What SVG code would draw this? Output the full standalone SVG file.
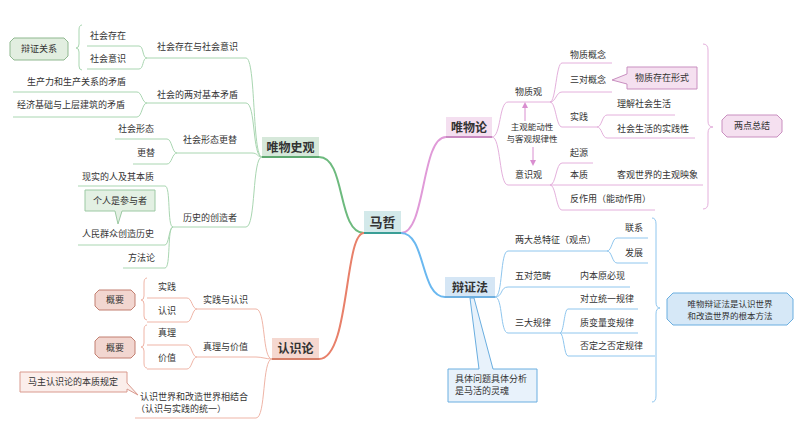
<svg xmlns="http://www.w3.org/2000/svg" width="800" height="430" viewBox="0 0 800 430">
<style>
text{font-family:"Noto Sans CJK SC","Noto Sans",sans-serif;fill:#333;font-size:9px}
.b{font-size:12px;font-weight:bold;text-anchor:middle}
.m{text-anchor:middle}
.s{font-size:8.5px}
.g{fill:none;stroke:#a9d6b1;stroke-width:1}
.p{fill:none;stroke:#e4b0dc;stroke-width:1}
.u{fill:none;stroke:#8fc6ee;stroke-width:1}
.o{fill:none;stroke:#efb5a7;stroke-width:1}
</style>
<rect width="800" height="430" fill="#fff"/>
<g id="connectors">
<path d="M319,157 C346,157 337,233 364,233" fill="none" stroke="#6dba7e" stroke-width="2"/>
<path d="M401,233 C426,233 421,137 446,137" fill="none" stroke="#e09ad8" stroke-width="2"/>
<path d="M401,233 C426,233 420,297 445,297" fill="none" stroke="#6ab8f0" stroke-width="2"/>
<path d="M364,233 C344,233 350,359 319,359" fill="none" stroke="#e8806a" stroke-width="2"/>
<!-- green -->
<path class="g" d="M262,157 C252,157 256,58 246,58 L147,58"/>
<path class="g" d="M147,58 C142,58 144,46 139,46 L87,46"/>
<path class="g" d="M147,58 C142,58 144,69 139,69 L87,69"/>
<path class="g" d="M262,157 C252,157 256,103 246,103 L147,103"/>
<path class="g" d="M147,103 C142,103 142,92 137,92 L13,92"/>
<path class="g" d="M147,103 C142,103 142,117 137,117 L13,117"/>
<path class="g" d="M262,157 C257,157 258,153 252,153 L177,153"/>
<path class="g" d="M177,153 C172,153 172,139 167,139 L115,139"/>
<path class="g" d="M177,153 C172,153 172,164 167,164 L133,164"/>
<path class="g" d="M262,157 C252,157 256,227 246,227 L173,227"/>
<path class="g" d="M173,227 C167,227 171,186 165,186 L78,186"/>
<path class="g" d="M173,227 C169,227 169,245 165,245 L78,245"/>
<path class="g" d="M173,227 C167,227 171,268 165,268 L123,268"/>
<path class="g" d="M82,25 Q79,25 79,30 L79,44 Q79,48 76,48 Q79,48 79,52 L79,66 Q79,70 82,70"/>
<!-- orange -->
<path class="o" d="M272,359 C262,359 266,309 256,309 L197,309"/>
<path class="o" d="M197,309 C192,309 192,298 187,298 L147,298"/>
<path class="o" d="M197,309 C192,309 192,322 187,322 L147,322"/>
<path class="o" d="M272,359 C266,359 262,357 256,357 L197,357"/>
<path class="o" d="M197,357 C192,357 192,345 187,345 L147,345"/>
<path class="o" d="M197,357 C192,357 192,369 187,369 L147,369"/>
<path class="o" d="M272,359 C262,359 266,418 256,418 L135,418"/>
<path class="o" d="M147,278 Q144,278 144,283 L144,296 Q144,300 141,300 Q144,300 144,304 L144,316 Q144,320 147,320"/>
<path class="o" d="M147,325 Q144,325 144,330 L144,343 Q144,347 141,347 Q144,347 144,351 L144,363 Q144,368 147,368"/>
<!-- pink -->
<path class="p" d="M492,137 C501,137 499,102 508,102 L550,102"/>
<path class="p" d="M492,137 C501,137 499,185 508,185 L550,185"/>
<path class="p" d="M550,102 C556,102 556,63 562,63 L612,63"/>
<path class="p" d="M550,102 C556,102 556,92 562,92 L612,92"/>
<path class="p" d="M550,102 C556,102 556,127 562,127 L597,127"/>
<path class="p" d="M597,127 C602,127 602,115 607,115 L675,115"/>
<path class="p" d="M597,127 C602,127 602,138 607,138 L695,138"/>
<path class="p" d="M550,185 C556,185 556,163 562,163 L593,163"/>
<path class="p" d="M550,185 L703,185"/>
<path class="p" d="M550,185 C556,185 556,210 562,210 L655,210"/>
<path class="p" d="M703,44 Q708,44 708,50 L708,121 Q708,127 713,127 Q708,127 708,133 L708,203 Q708,209 703,209"/>
<path d="M525,121 L525,106" fill="none" stroke="#d98ed0" stroke-width="1"/>
<path d="M522,108 L525,102 L528,108 Z" fill="#d98ed0"/>
<path d="M533,147 L533,162" fill="none" stroke="#d98ed0" stroke-width="1"/>
<path d="M530,160 L533,166 L536,160 Z" fill="#d98ed0"/>
<!-- blue -->
<path class="u" d="M495,297 C503,297 500,251 508,251 L607,251"/>
<path class="u" d="M607,251 C612,251 612,238 617,238 L648,238"/>
<path class="u" d="M607,251 C612,251 612,263 617,263 L648,263"/>
<path class="u" d="M495,297 C503,297 500,287 508,287 L630,287"/>
<path class="u" d="M495,297 C503,297 500,333 508,333 L638,333"/>
<path class="u" d="M560,333 C564,333 564,309 568,309 L638,309"/>
<path class="u" d="M560,333 C564,333 564,356 568,356 L655,356"/>
<path class="u" d="M652,218 Q656,218 656,224 L656,302 Q656,308 660,308 Q656,308 656,314 L656,396 Q656,402 652,402"/>
</g>
<g id="center">
<rect x="364" y="211" width="37" height="22" fill="#d3e9ea"/>
<line x1="364" y1="233" x2="401" y2="233" stroke="#3a9e96" stroke-width="2"/>
<text x="382.5" y="227" class="b" style="font-size:13px">马哲</text>
</g>
<g id="n-lswsg">
<rect x="262" y="137" width="57" height="20" fill="#d6e8da"/>
<line x1="262" y1="157" x2="319" y2="157" stroke="#5ea870" stroke-width="2"/>
<text x="290.5" y="151.5" class="b">唯物史观</text>
</g>
<g id="n-wwl">
<rect x="446" y="117" width="46" height="20" fill="#f4dff0"/>
<line x1="446" y1="137" x2="492" y2="137" stroke="#c98ac1" stroke-width="2"/>
<text x="469" y="131.5" class="b">唯物论</text>
</g>
<g id="n-bzf">
<rect x="445" y="277" width="50" height="20" fill="#d5e6f5"/>
<line x1="445" y1="297" x2="495" y2="297" stroke="#6fb0e0" stroke-width="2"/>
<text x="470" y="291.5" class="b">辩证法</text>
</g>
<g id="n-rsl">
<rect x="272" y="338" width="47" height="21" fill="#f5d8d0"/>
<line x1="272" y1="359" x2="319" y2="359" stroke="#d5806a" stroke-width="2"/>
<text x="295.5" y="353" class="b">认识论</text>
</g>
<g id="green-texts">
<path d="M14,38 H64 L68,42 V56 L64,60 H14 L10,56 V42 Z" fill="#e2eee0" stroke="#8fb88f"/>
<text x="39" y="52" class="m">辩证关系</text>
<text x="90" y="39">社会存在</text>
<text x="90" y="62">社会意识</text>
<text x="157" y="50">社会存在与社会意识</text>
<text x="27" y="85">生产力和生产关系的矛盾</text>
<text x="17" y="108">经济基础与上层建筑的矛盾</text>
<text x="157" y="98">社会的两对基本矛盾</text>
<text x="118" y="132">社会形态</text>
<text x="137" y="156">更替</text>
<text x="183" y="143">社会形态更替</text>
<text x="82" y="180">现实的人及其本质</text>
<path d="M85,190 H155 V211 H122 L118,224 L115,211 H85 Z" fill="#e3f0e3" stroke="#9cc9a3"/>
<text x="120" y="203.5" class="m">个人是参与者</text>
<text x="82" y="237">人民群众创造历史</text>
<text x="128" y="261">方法论</text>
<text x="183" y="221">历史的创造者</text>
</g>
<g id="orange-texts">
<path d="M99,290 H131 L135,294 V306 L131,310 H99 L95,306 V294 Z" fill="#f2d6d0" stroke="#c27f70"/>
<text x="115" y="303" class="m">概要</text>
<path d="M99,337 H131 L135,341 V354 L131,358 H99 L95,354 V341 Z" fill="#f2d6d0" stroke="#c27f70"/>
<text x="115" y="350.5" class="m">概要</text>
<text x="158" y="290">实践</text>
<text x="158" y="314">认识</text>
<text x="203" y="303">实践与认识</text>
<text x="158" y="336">真理</text>
<text x="158" y="361">价值</text>
<text x="203" y="350">真理与价值</text>
<path d="M20,372 H127 V383 L138,395 L127,389 V392 H20 Z" fill="#fbeeeb" stroke="#d99a8e"/>
<text x="73" y="385" class="m">马主认识论的本质规定</text>
<text x="140" y="400">认识世界和改造世界相结合</text>
<text x="136" y="412">（认识与实践的统一）</text>
</g>
<g id="pink-texts">
<text x="515" y="95">物质观</text>
<text x="532" y="130" class="m s">主观能动性</text>
<text x="532" y="141.5" class="m s">与客观规律性</text>
<text x="515" y="178">意识观</text>
<text x="570" y="58">物质概念</text>
<text x="570" y="83">三对概念</text>
<path d="M627,67 H697 V89 H627 V84 L612,80 L627,74 Z" fill="#f5e0f0" stroke="#c98fc0"/>
<text x="662" y="81" class="m">物质存在形式</text>
<text x="570" y="120">实践</text>
<text x="617" y="107">理解社会生活</text>
<text x="617" y="132">社会生活的实践性</text>
<text x="570" y="156">起源</text>
<text x="570" y="178">本质</text>
<text x="617" y="178">客观世界的主观映象</text>
<text x="570" y="202">反作用（能动作用）</text>
<path d="M727,115 H777 L782,120 V132 L777,137 H727 L722,132 V120 Z" fill="#f5e0f0" stroke="#c98fc0"/>
<text x="752" y="129" class="m">两点总结</text>
</g>
<g id="blue-texts">
<text x="515" y="243">两大总特征（观点）</text>
<text x="625" y="231">联系</text>
<text x="625" y="256">发展</text>
<text x="515" y="279">五对范畴</text>
<text x="580" y="279">内本原必现</text>
<text x="515" y="326">三大规律</text>
<text x="580" y="302">对立统一规律</text>
<text x="580" y="326">质变量变规律</text>
<text x="580" y="349">否定之否定规律</text>
<path d="M673,293 H787 L793,299 V319 L787,325 H673 L667,319 V299 Z" fill="#d6e8f7" stroke="#6aaee0"/>
<text x="730" y="307" class="m s">唯物辩证法是认识世界</text>
<text x="730" y="318.5" class="m s">和改造世界的根本方法</text>
<path d="M448,369 H479 L470,298 L474,298 L493,369 H537 V402 H448 Z" fill="#e8f2fb" stroke="#6aaee0"/>
<text x="455" y="382">具体问题具体分析</text>
<text x="455" y="394">是马活的灵魂</text>
</g>
</svg>
